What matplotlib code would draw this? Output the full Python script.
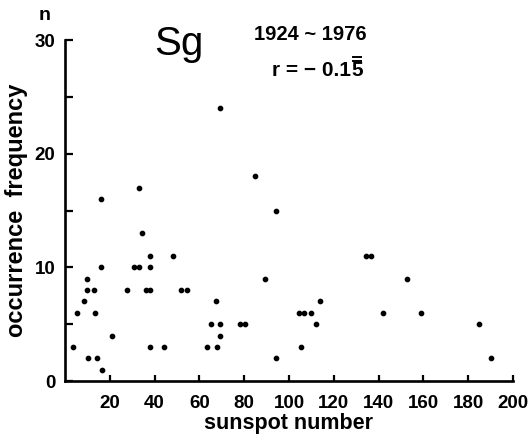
import matplotlib
matplotlib.use("Agg")
import matplotlib.pyplot as plt
from matplotlib.lines import Line2D

# Yearly occurrence frequency of Sg events against annual sunspot number, 1924-1976
sunspot_number = [
    3.5, 5.5, 8.5, 10, 10, 10.5, 13, 13.5, 14.5, 16, 16, 16.5, 21, 27.5,
    31, 33, 33, 34.5, 36, 38, 38, 38, 38, 44, 48, 52, 54.5, 63.5, 65,
    67.5, 68, 69, 69, 69, 78, 80.5, 85, 89.5, 94, 94, 104.5, 105.5, 106.5,
    110, 112, 114, 134.5, 136.5, 142, 152.5, 159, 185, 190,
]
occurrence = [
    3, 6, 7, 9, 8, 2, 8, 6, 2, 10, 16, 1, 4, 8,
    10, 10, 17, 13, 8, 8, 10, 11, 3, 3, 11, 8, 8, 3, 5,
    7, 3, 4, 5, 24, 5, 5, 18, 9, 15, 2, 6, 3, 6,
    6, 5, 7, 11, 11, 6, 9, 6, 5, 2,
]
x_ticks = [20, 40, 60, 80, 100, 120, 140, 160, 180, 200]
y_major = [0, 10, 20, 30]
y_minor = [5, 15, 25]
corr_prefix = "r = \u2212 0.1"
corr_last = "5"

narrow = ["Liberation Sans Narrow", "Liberation Sans", "DejaVu Sans"]
wide = ["Liberation Sans", "DejaVu Sans"]

fig = plt.figure(figsize=(5.3, 4.42), dpi=100)
ax = fig.add_axes([0.1226, 0.138, 0.8453, 0.7715])

ax.plot(sunspot_number, occurrence, "o", color="black", ms=3.1,
        mec="black", clip_on=False)

ax.set_xlim(0, 200)
ax.set_ylim(0, 30)
ax.set_xticks(x_ticks)
ax.set_xticklabels([str(v) for v in x_ticks])
ax.set_yticks(y_major)
ax.set_yticklabels([str(v) for v in y_major])
ax.set_yticks(y_minor, minor=True)

for side in ("top", "right"):
    ax.spines[side].set_visible(False)
for side in ("left", "bottom"):
    ax.spines[side].set_linewidth(1.9)

ax.tick_params(axis="x", which="major", direction="in", length=4.5,
               width=1.6, pad=10)
ax.tick_params(axis="y", which="both", direction="in", length=6,
               width=1.6, pad=7)

for lab in ax.get_xticklabels() + ax.get_yticklabels():
    lab.set_fontfamily(narrow)
    lab.set_fontweight("bold")
    lab.set_fontsize(13.5)

ax.set_xlabel("sunspot number", family=wide, fontweight="bold",
              fontsize=15.5, labelpad=1)
ax.set_ylabel("occurrence  frequency", family=narrow, fontweight="bold",
              fontsize=17, labelpad=5)

fig.text(45 / 530, 1 - 16 / 442, "n", family=narrow, fontweight="bold",
         fontsize=14, ha="center", va="center")
fig.text(179 / 530, 1 - 44 / 442, "Sg", family=wide, fontsize=29,
         ha="center", va="center")
fig.text(310 / 530, 1 - 35 / 442, "1924 ~ 1976", family=wide,
         fontweight="bold", fontsize=14.5, ha="center", va="center")

# correlation coefficient, last digit marked with a double overline
corr_kw = dict(family=wide, fontweight="bold", fontsize=15, va="center")
x0 = 272 / 530
y0 = 1 - 71 / 442
pre = fig.text(x0, y0, corr_prefix, ha="left", **corr_kw)
fig.canvas.draw()
renderer = fig.canvas.get_renderer()
pb = pre.get_window_extent(renderer)
last = fig.text(pb.x1 / fig.bbox.width, y0, corr_last, ha="left", **corr_kw)
fig.canvas.draw()
lb = last.get_window_extent(renderer)
W, H = fig.bbox.width, fig.bbox.height
top = lb.y1 - 2
for off in (3, 6.5):
    fig.add_artist(Line2D([(lb.x0 + 1.5) / W, (lb.x1 - 1.5) / W],
                          [(top + off) / H, (top + off) / H],
                          color="black", lw=1.4))

fig.savefig("out.png", dpi=100)
